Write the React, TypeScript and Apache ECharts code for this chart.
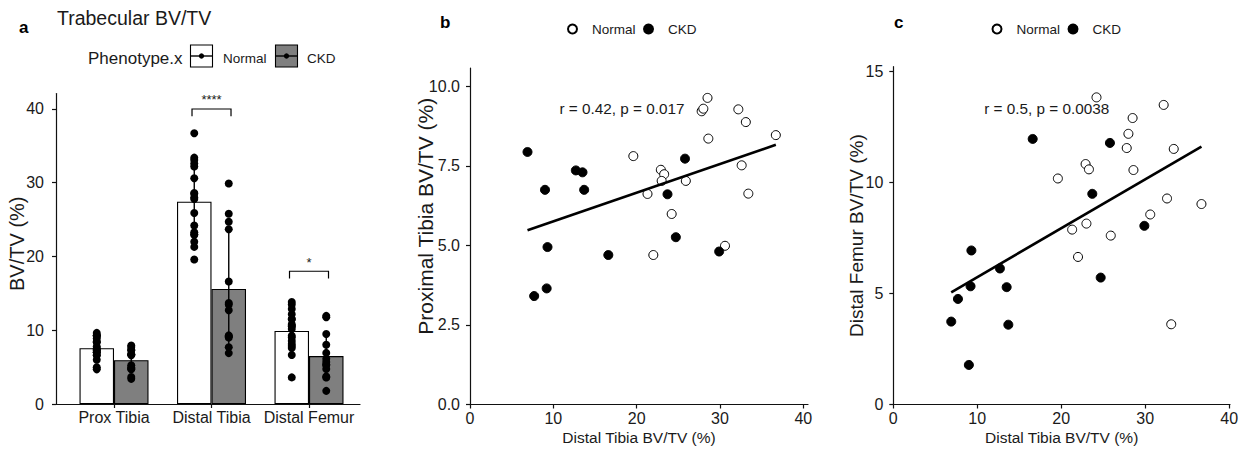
import { useEffect, useRef } from 'react';
import * as echarts from 'echarts';

// ---------- data ----------
const categories = ['Prox Tibia', 'Distal Tibia', 'Distal Femur'];

// Normal animals (distal tibia, proximal tibia, distal femur BV/TV %)
const normalDistalTibia = [19.6, 21.3, 22.0, 22.9, 23.3, 23.0, 24.2, 25.9, 27.8, 28.0, 28.5, 28.6, 30.6, 32.2, 32.6, 33.1, 33.4, 36.7];
const normalProxTibia = [7.81, 6.62, 4.7, 7.38, 7.24, 7.03, 5.99, 7.03, 9.22, 9.3, 9.64, 8.36, 4.99, 9.28, 7.52, 8.88, 6.63, 8.47];
const normalDistalFemur = [10.17, 7.87, 6.64, 10.82, 10.58, 8.14, 13.82, 7.6, 11.54, 12.18, 12.89, 10.55, 8.55, 13.48, 9.27, 3.61, 11.5, 9.02];

// CKD animals
const ckdDistalTibia = [6.9, 7.7, 9.0, 9.2, 9.3, 12.7, 13.5, 13.7, 16.6, 23.7, 24.7, 25.8, 29.9];
const ckdProxTibia = [7.94, 3.41, 6.75, 3.65, 4.95, 7.36, 7.3, 6.75, 4.7, 6.61, 5.26, 7.73, 4.81];
const ckdDistalFemur = [3.73, 4.75, 1.78, 5.32, 6.93, 6.12, 5.28, 3.59, 11.95, 9.48, 5.71, 11.77, 8.04];

const sigLabels = ['', '****', '*'];
const sigHeights = [0, 40, 18];

const corrLabels = ['r = 0.42, p = 0.017', 'r = 0.5, p = 0.0038'];

const aYTicks = [0, 10, 20, 30, 40];
const bYTicks = [0, 2.5, 5, 7.5, 10];
const cYTicks = [0, 5, 10, 15];
const xTicks = [0, 10, 20, 30, 40];
const catTicks = [0, 1, 2];

// ---------- helpers ----------
const mean = (a: number[]) => a.reduce((s, v) => s + v, 0) / a.length;
const sd = (a: number[]) => {
  const m = mean(a);
  return Math.sqrt(a.reduce((s, v) => s + (v - m) ** 2, 0) / (a.length - 1));
};
const zip = (xs: number[], ys: number[]) => xs.map((x, i) => [x, ys[i]]);
const fitLine = (xs: number[], ys: number[]) => {
  const mx = mean(xs);
  const my = mean(ys);
  let sxy = 0;
  let sxx = 0;
  xs.forEach((x, i) => {
    sxy += (x - mx) * (ys[i] - my);
    sxx += (x - mx) ** 2;
  });
  const b = sxy / sxx;
  const a = my - b * mx;
  const lo = Math.min(...xs);
  const hi = Math.max(...xs);
  return [[lo, a + b * lo], [hi, a + b * hi]];
};

const normalGroups = [normalProxTibia, normalDistalTibia, normalDistalFemur];
const ckdGroups = [ckdProxTibia, ckdDistalTibia, ckdDistalFemur];

const FONT = '"Liberation Sans", Arial, Helvetica, sans-serif';
const TXT = '#1a1a1a';
const AXIS = { color: '#111', width: 1.2 };
const HALF = 17.25; // half bar width in px

const allDT = [...normalDistalTibia, ...ckdDistalTibia];
const allPT = [...normalProxTibia, ...ckdProxTibia];
const allDF = [...normalDistalFemur, ...ckdDistalFemur];

function valueAxis(gridIndex: number, min: number, max: number, ticks: number[], extra: any = {}) {
  return {
    gridIndex,
    type: 'value',
    min,
    max,
    nameMoveOverlap: false,
    axisLine: { show: true, onZero: false, lineStyle: AXIS },
    axisTick: { show: true, length: 4, customValues: ticks, lineStyle: AXIS },
    axisLabel: { customValues: ticks, fontSize: 16, color: TXT, fontFamily: FONT, margin: 6 },
    splitLine: { show: false },
    nameTextStyle: { fontSize: 15.5, color: TXT, fontFamily: FONT },
    ...extra,
  };
}

function errorBarSeries(groups: number[][], offset: number, name: string) {
  return {
    type: 'custom',
    name,
    xAxisIndex: 0,
    yAxisIndex: 0,
    z: 3,
    silent: true,
    data: groups.map((g, i) => [i, mean(g) - sd(g), mean(g) + sd(g)]),
    renderItem: (_p: any, api: any) => {
      const i = api.value(0);
      const lo = api.coord([i, api.value(1)]);
      const hi = api.coord([i, api.value(2)]);
      return {
        type: 'line',
        shape: { x1: lo[0] + offset, y1: lo[1], x2: hi[0] + offset, y2: hi[1] },
        style: { stroke: '#000', lineWidth: 1.4 },
      };
    },
  };
}

function pointsSeries(groups: number[][], offset: number, name: string) {
  const data: number[][] = [];
  groups.forEach((g, i) => g.forEach((v) => data.push([i, v])));
  return {
    type: 'scatter',
    name,
    xAxisIndex: 0,
    yAxisIndex: 0,
    z: 4,
    symbolSize: 8,
    symbolOffset: [offset, 0],
    itemStyle: { color: '#000', opacity: 1 },
    data,
  };
}

const sigItems = sigLabels.map((l, i) => ({ l, i })).filter((d) => d.l !== '');

const scatterStyleNormal = { color: '#fff', borderColor: '#000', borderWidth: 1, opacity: 1 };
const scatterStyleCkd = { color: '#000', borderColor: '#000', borderWidth: 1, opacity: 1 };

const option: any = {
  animation: false,
  backgroundColor: '#fff',
  textStyle: { fontFamily: FONT },
  grid: [
    { left: 56, top: 93.5, width: 304, height: 310.5, containLabel: false, outerBoundsMode: 'none' },
    { left: 470, top: 68, width: 338, height: 336.5, containLabel: false, outerBoundsMode: 'none' },
    { left: 893.3, top: 66.7, width: 336.7, height: 337.8, containLabel: false, outerBoundsMode: 'none' },
  ],
  xAxis: [
    valueAxis(0, -0.595, 2.523, catTicks, {
      axisLabel: {
        customValues: catTicks,
        formatter: (v: number) => categories[Math.round(v)] ?? '',
        fontSize: 16,
        color: TXT,
        fontFamily: FONT,
        margin: 5,
      },
    }),
    valueAxis(1, 0, 40.56, xTicks, { name: 'Distal Tibia BV/TV (%)', nameLocation: 'middle', nameGap: 25 }),
    valueAxis(2, 0, 40.1, xTicks, { name: 'Distal Tibia BV/TV (%)', nameLocation: 'middle', nameGap: 25 }),
  ],
  yAxis: [
    valueAxis(0, 0, 42.1, aYTicks, {
      name: 'BV/TV (%)',
      nameLocation: 'middle',
      nameGap: 29,
      nameTextStyle: { fontSize: 20, color: TXT, fontFamily: FONT, padding: [0, 0, 0, 10] },
      axisLabel: { customValues: aYTicks, fontSize: 16, color: TXT, fontFamily: FONT, margin: 12 },
    }),
    valueAxis(1, 0, 10.58, bYTicks, {
      name: 'Proximal Tibia BV/TV (%)',
      nameLocation: 'middle',
      nameGap: 34,
      nameTextStyle: { fontSize: 21, color: TXT, fontFamily: FONT, padding: [0, 0, 0, 40] },
      axisLabel: {
        customValues: bYTicks,
        formatter: (v: number) => v.toFixed(1),
        fontSize: 16,
        color: TXT,
        fontFamily: FONT,
        margin: 10,
      },
    }),
    valueAxis(2, 0, 15.2, cYTicks, {
      name: 'Distal Femur BV/TV (%)',
      nameLocation: 'middle',
      nameGap: 27,
      nameTextStyle: { fontSize: 19, color: TXT, fontFamily: FONT },
      axisLabel: { customValues: cYTicks, fontSize: 16, color: TXT, fontFamily: FONT, margin: 10 },
    }),
  ],
  legend: [
    {
      data: ['Normal', 'CKD'],
      left: 567,
      top: 22,
      padding: 0,
      itemWidth: 29,
      itemHeight: 9,
      itemGap: 7.5,
      selectedMode: false,
      textStyle: { fontSize: 13.5, color: TXT, fontFamily: FONT },
    },
    {
      data: ['Normal', 'CKD'],
      left: 991.5,
      top: 22,
      padding: 0,
      itemWidth: 29,
      itemHeight: 9,
      itemGap: 7.5,
      selectedMode: false,
      textStyle: { fontSize: 13.5, color: TXT, fontFamily: FONT },
    },
  ],
  series: [
    // panel b
    { type: 'scatter', name: 'Normal', xAxisIndex: 1, yAxisIndex: 1, symbolSize: 9, itemStyle: scatterStyleNormal, data: zip(normalDistalTibia, normalProxTibia), z: 3 },
    { type: 'scatter', name: 'CKD', xAxisIndex: 1, yAxisIndex: 1, symbolSize: 9, itemStyle: scatterStyleCkd, data: zip(ckdDistalTibia, ckdProxTibia), z: 3 },
    { type: 'line', name: 'fit b', xAxisIndex: 1, yAxisIndex: 1, symbol: 'none', lineStyle: { color: '#000', width: 2.6 }, data: fitLine(allDT, allPT), z: 4, silent: true },
    // panel c
    { type: 'scatter', name: 'Normal', xAxisIndex: 2, yAxisIndex: 2, symbolSize: 9, itemStyle: scatterStyleNormal, data: zip(normalDistalTibia, normalDistalFemur), z: 3 },
    { type: 'scatter', name: 'CKD', xAxisIndex: 2, yAxisIndex: 2, symbolSize: 9, itemStyle: scatterStyleCkd, data: zip(ckdDistalTibia, ckdDistalFemur), z: 3 },
    { type: 'line', name: 'fit c', xAxisIndex: 2, yAxisIndex: 2, symbol: 'none', lineStyle: { color: '#000', width: 2.6 }, data: fitLine(allDT, allDF), z: 4, silent: true },
    // panel a
    {
      type: 'bar',
      name: 'Normal (bars)',
      xAxisIndex: 0,
      yAxisIndex: 0,
      barWidth: HALF * 2,
      barGap: '0%',
      z: 2,
      itemStyle: { color: '#fff', borderColor: '#000', borderWidth: 1.1 },
      data: normalGroups.map((g, i) => [i, mean(g)]),
    },
    {
      type: 'bar',
      name: 'CKD (bars)',
      xAxisIndex: 0,
      yAxisIndex: 0,
      barWidth: HALF * 2,
      barGap: '0%',
      z: 2,
      itemStyle: { color: '#7f7f7f', borderColor: '#000', borderWidth: 1.1 },
      data: ckdGroups.map((g, i) => [i, mean(g)]),
    },
    errorBarSeries(normalGroups, -HALF, 'Normal SD'),
    errorBarSeries(ckdGroups, HALF, 'CKD SD'),
    pointsSeries(normalGroups, -HALF, 'Normal points'),
    pointsSeries(ckdGroups, HALF, 'CKD points'),
    {
      type: 'custom',
      name: 'significance',
      xAxisIndex: 0,
      yAxisIndex: 0,
      z: 5,
      silent: true,
      data: sigItems.map((d) => [d.i, sigHeights[d.i]]),
      renderItem: (params: any, api: any) => {
        const c = api.coord([api.value(0), api.value(1)]);
        const drop = api.size([0, 1])[1];
        const w = 19.5;
        return {
          type: 'group',
          children: [
            {
              type: 'polyline',
              shape: { points: [[c[0] - w, c[1] + drop], [c[0] - w, c[1]], [c[0] + w, c[1]], [c[0] + w, c[1] + drop]] },
              style: { stroke: '#000', lineWidth: 1.2, fill: 'none' },
            },
            {
              type: 'text',
              x: c[0],
              y: c[1] - 9,
              style: { text: sigItems[params.dataIndex].l, fontSize: 13, fill: TXT, fontFamily: FONT, align: 'center', verticalAlign: 'middle' },
            },
          ],
        };
      },
    },
  ],
  graphic: [
    { type: 'text', x: 19, y: 27, style: { text: 'a', fontSize: 17, fontWeight: 'bold', fill: '#000', fontFamily: FONT, verticalAlign: 'middle' } },
    { type: 'text', x: 440, y: 22, style: { text: 'b', fontSize: 17, fontWeight: 'bold', fill: '#000', fontFamily: FONT, verticalAlign: 'middle' } },
    { type: 'text', x: 894, y: 22, style: { text: 'c', fontSize: 17, fontWeight: 'bold', fill: '#000', fontFamily: FONT, verticalAlign: 'middle' } },
    { type: 'text', x: 57, y: 18, style: { text: 'Trabecular BV/TV', fontSize: 19.5, fill: TXT, fontFamily: FONT, verticalAlign: 'middle' } },
    // panel a legend
    { type: 'text', x: 88, y: 58, style: { text: 'Phenotype.x', fontSize: 17, fill: TXT, fontFamily: FONT, verticalAlign: 'middle' } },
    { type: 'rect', shape: { x: 190.5, y: 45, width: 22, height: 22 }, style: { fill: '#fff', stroke: '#000', lineWidth: 1.1 } },
    { type: 'line', shape: { x1: 191, y1: 56, x2: 212, y2: 56 }, style: { stroke: '#000', lineWidth: 1.4 } },
    { type: 'circle', shape: { cx: 201.5, cy: 56, r: 2.7 }, style: { fill: '#000' } },
    { type: 'text', x: 223, y: 58, style: { text: 'Normal', fontSize: 13.5, fill: TXT, fontFamily: FONT, verticalAlign: 'middle' } },
    { type: 'rect', shape: { x: 275.5, y: 45, width: 22, height: 22 }, style: { fill: '#7f7f7f', stroke: '#000', lineWidth: 1.1 } },
    { type: 'line', shape: { x1: 276, y1: 56, x2: 297, y2: 56 }, style: { stroke: '#000', lineWidth: 1.4 } },
    { type: 'circle', shape: { cx: 286.5, cy: 56, r: 2.7 }, style: { fill: '#000' } },
    { type: 'text', x: 307, y: 58, style: { text: 'CKD', fontSize: 13.5, fill: TXT, fontFamily: FONT, verticalAlign: 'middle' } },
    // correlation annotations
    { type: 'text', x: 622, y: 108, style: { text: corrLabels[0], fontSize: 15.3, fill: TXT, fontFamily: FONT, align: 'center', verticalAlign: 'middle' } },
    { type: 'text', x: 1046.7, y: 108, style: { text: corrLabels[1], fontSize: 15.3, fill: TXT, fontFamily: FONT, align: 'center', verticalAlign: 'middle' } },
  ],
};

export default function App() {
  const ref = useRef<HTMLDivElement>(null);
  useEffect(() => {
    document.body.style.margin = '0';
    const chart = echarts.init(ref.current as HTMLDivElement, null, { renderer: 'svg' });
    chart.setOption(option);
    return () => chart.dispose();
  }, []);
  return <div ref={ref} style={{ width: 1256, height: 452 }} />;
}
